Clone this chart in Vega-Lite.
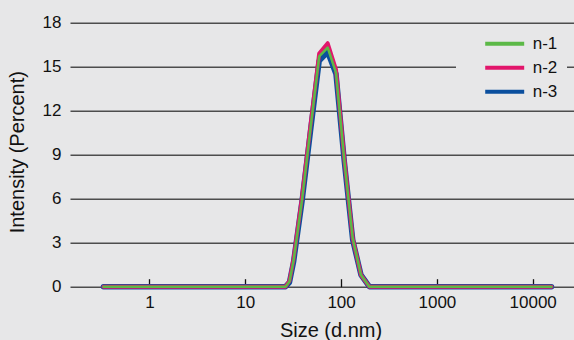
{
  "$schema": "https://vega.github.io/schema/vega-lite/v6.json",
  "width": 504,
  "height": 264,
  "autosize": "none",
  "padding": {"left": 70, "top": 22.7, "right": 0, "bottom": 53.3},
  "background": "#e7e7e8",
  "config": {"view": {"stroke": null}, "font": "Liberation Sans"},
  "data": {
    "values": [
      {"series": "n-1", "size": 0.331, "intensity": 0},
      {"series": "n-1", "size": 26.28, "intensity": 0},
      {"series": "n-1", "size": 28.93, "intensity": 0.35},
      {"series": "n-1", "size": 31.93, "intensity": 1.8},
      {"series": "n-1", "size": 39.07, "intensity": 5.9},
      {"series": "n-1", "size": 47.93, "intensity": 10.8},
      {"series": "n-1", "size": 59.07, "intensity": 15.7},
      {"series": "n-1", "size": 72.47, "intensity": 16.3},
      {"series": "n-1", "size": 88.48, "intensity": 14.6},
      {"series": "n-1", "size": 108.2, "intensity": 8.6},
      {"series": "n-1", "size": 132.2, "intensity": 3.3},
      {"series": "n-1", "size": 161.3, "intensity": 0.8},
      {"series": "n-1", "size": 197.4, "intensity": 0},
      {"series": "n-1", "size": 15715, "intensity": 0},
      {"series": "n-2", "size": 0.331, "intensity": 0},
      {"series": "n-2", "size": 26.28, "intensity": 0},
      {"series": "n-2", "size": 28.93, "intensity": 0.4},
      {"series": "n-2", "size": 31.93, "intensity": 1.9},
      {"series": "n-2", "size": 39.07, "intensity": 6.1},
      {"series": "n-2", "size": 47.93, "intensity": 11.0},
      {"series": "n-2", "size": 59.07, "intensity": 15.9},
      {"series": "n-2", "size": 72.47, "intensity": 16.6},
      {"series": "n-2", "size": 88.48, "intensity": 14.8},
      {"series": "n-2", "size": 108.2, "intensity": 8.7},
      {"series": "n-2", "size": 132.2, "intensity": 3.3},
      {"series": "n-2", "size": 161.3, "intensity": 0.8},
      {"series": "n-2", "size": 197.4, "intensity": 0},
      {"series": "n-2", "size": 15715, "intensity": 0},
      {"series": "n-3", "size": 0.331, "intensity": 0},
      {"series": "n-3", "size": 26.28, "intensity": 0},
      {"series": "n-3", "size": 28.93, "intensity": 0.3},
      {"series": "n-3", "size": 31.93, "intensity": 1.7},
      {"series": "n-3", "size": 39.07, "intensity": 5.8},
      {"series": "n-3", "size": 47.93, "intensity": 10.6},
      {"series": "n-3", "size": 59.07, "intensity": 15.4},
      {"series": "n-3", "size": 72.47, "intensity": 16.0},
      {"series": "n-3", "size": 88.48, "intensity": 14.5},
      {"series": "n-3", "size": 108.2, "intensity": 8.5},
      {"series": "n-3", "size": 132.2, "intensity": 3.2},
      {"series": "n-3", "size": 161.3, "intensity": 0.8},
      {"series": "n-3", "size": 197.4, "intensity": 0},
      {"series": "n-3", "size": 15715, "intensity": 0}
    ]
  },
  "encoding": {
    "x": {
      "field": "size",
      "type": "quantitative",
      "scale": {"type": "log", "domain": [0.148, 27000], "nice": false},
      "axis": {
        "values": [1, 10, 100, 1000, 10000],
        "format": "d",
        "grid": false,
        "domain": false,
        "ticks": true,
        "tickSize": -8,
        "tickWidth": 1.3,
        "tickColor": "#111111",
        "labelFontSize": 17,
        "labelColor": "#111111",
        "labelPadding": 16,
        "labelFlush": false,
        "title": "Size (d.nm)",
        "titleFontSize": 20,
        "titleFontWeight": "normal",
        "titleColor": "#111111",
        "titleX": 260.5,
        "titleY": 50,
        "titleAlign": "center",
        "titleBaseline": "alphabetic"
      }
    },
    "y": {
      "field": "intensity",
      "type": "quantitative",
      "scale": {"domain": [0, 18], "nice": false},
      "axis": {
        "values": [0, 3, 6, 9, 12, 15, 18],
        "grid": true,
        "gridColor": "#4d4d4d",
        "gridWidth": 1.4,
        "gridOpacity": 1,
        "domain": false,
        "ticks": false,
        "labelFontSize": 17,
        "labelColor": "#111111",
        "labelPadding": 9,
        "title": "Intensity (Percent)",
        "titleFontSize": 20,
        "titleFontWeight": "normal",
        "titleColor": "#111111",
        "titleX": -53,
        "titleY": 129,
        "titleAlign": "center",
        "titleBaseline": "middle",
        "titleAngle": -90
      }
    },
    "color": {
      "field": "series",
      "type": "nominal",
      "scale": {"domain": ["n-1", "n-2", "n-3"], "range": ["#5cb947", "#e2166b", "#0b4f9e"]},
      "legend": {
        "orient": "none",
        "legendX": 391,
        "legendY": 7,
        "title": null,
        "fillColor": "#e7e7e8",
        "padding": 4,
        "symbolType": "M-2.5,0L2.5,0",
        "symbolStrokeWidth": 4,
        "symbolSize": 243,
        "symbolOffset": 29.7,
        "labelFontSize": 17,
        "labelColor": "#111111",
        "labelOffset": 18,
        "rowPadding": 6,
        "encode": {
          "legend": {
            "update": {
              "stroke": {"value": "#e7e7e8"},
              "strokeWidth": {"value": 10}
            }
          }
        }
      }
    }
  },
  "layer": [
    {"transform": [{"filter": "datum.series === 'n-3'"}], "mark": {"type": "line", "strokeWidth": 5.5, "strokeCap": "round", "strokeJoin": "round"}},
    {"transform": [{"filter": "datum.series === 'n-2'"}], "mark": {"type": "line", "strokeWidth": 4, "strokeCap": "round", "strokeJoin": "round"}},
    {"transform": [{"filter": "datum.series === 'n-1'"}], "mark": {"type": "line", "strokeWidth": 2.5, "strokeCap": "round", "strokeJoin": "round"}}
  ]
}
